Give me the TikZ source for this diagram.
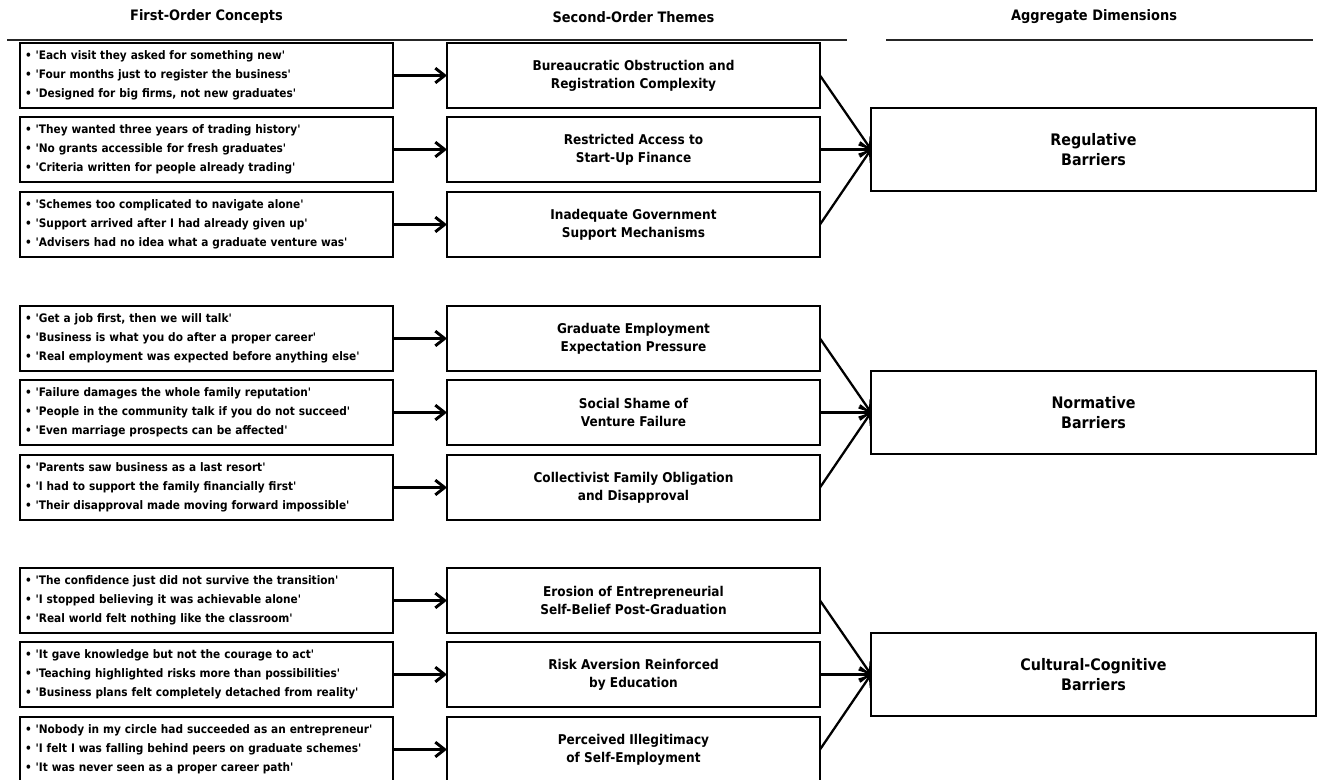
\documentclass[tikz,border=0pt]{standalone}
\usepackage{fontspec}
\setmainfont{DejaVu Sans Condensed}
\usetikzlibrary{arrows.meta}
\tikzset{>={Straight Barb[length=7pt,width=11pt]}}
\tikzset{
  concept/.style={draw, line width=1pt, outer sep=0pt, inner xsep=3.75pt, text width=272.25pt,
    minimum height=48.75pt, align=left, font=\fontsize{8.8}{14.1}\selectfont\bfseries},
  theme/.style={draw, line width=1pt, outer sep=0pt, minimum width=279.75pt, minimum height=48.75pt,
    align=center, font=\fontsize{10.1}{13.3}\selectfont\bfseries},
  dimbox/.style={draw, line width=1pt, outer sep=0pt, minimum width=333.75pt, minimum height=62.25pt,
    align=center, font=\fontsize{11.9}{15}\selectfont\bfseries},
  colhead/.style={font=\fontsize{10.8}{12}\selectfont\bfseries},
  rule/.style={line width=1.8pt, black!85},
  link/.style={->, line width=2.2pt},
  feed/.style={->, line width=1.7pt}
}
\newcommand{\qt}[1]{\textbullet\ \textquotesingle#1\textquotesingle}

\begin{document}
\begin{tikzpicture}[x=0.75pt, y=-0.75pt]
    \useasboundingbox (0,0) rectangle (1333,780);
    \clip (0,0) rectangle (1333,780);
    \node[colhead] (h1) at (206.5,17) {First-Order Concepts};
    \node[colhead] (h2) at (633.5,17) {Second-Order Themes};
    \node[colhead] (h3) at (1094,17) {Aggregate Dimensions};
    \draw[rule] (7,40) -- (847,40);
    \draw[rule] (886,40) -- (1313,40);
    % regulative
    \node[concept] (c1) at (206.5,75.5) {\qt{Each visit they asked for something new}\\ \qt{Four months just to register the business}\\ \qt{Designed for big firms, not new graduates}};
    \node[concept] (c2) at (206.5,149.5) {\qt{They wanted three years of trading history}\\ \qt{No grants accessible for fresh graduates}\\ \qt{Criteria written for people already trading}};
    \node[concept] (c3) at (206.5,224.5) {\qt{Schemes too complicated to navigate alone}\\ \qt{Support arrived after I had already given up}\\ \qt{Advisers had no idea what a graduate venture was}};
    \node[theme] (t1) at (633.5,75.5) {Bureaucratic Obstruction and\\ Registration Complexity};
    \node[theme] (t2) at (633.5,149.5) {Restricted Access to\\ Start-Up Finance};
    \node[theme] (t3) at (633.5,224.5) {Inadequate Government\\ Support Mechanisms};
    \node[dimbox] (d1) at (1093.5,149.5) {Regulative\\ Barriers};
    % normative
    \node[concept] (c4) at (206.5,338.5) {\qt{Get a job first, then we will talk}\\ \qt{Business is what you do after a proper career}\\ \qt{Real employment was expected before anything else}};
    \node[concept] (c5) at (206.5,412.5) {\qt{Failure damages the whole family reputation}\\ \qt{People in the community talk if you do not succeed}\\ \qt{Even marriage prospects can be affected}};
    \node[concept] (c6) at (206.5,487.5) {\qt{Parents saw business as a last resort}\\ \qt{I had to support the family financially first}\\ \qt{Their disapproval made moving forward impossible}};
    \node[theme] (t4) at (633.5,338.5) {Graduate Employment\\ Expectation Pressure};
    \node[theme] (t5) at (633.5,412.5) {Social Shame of\\ Venture Failure};
    \node[theme] (t6) at (633.5,487.5) {Collectivist Family Obligation\\ and Disapproval};
    \node[dimbox] (d2) at (1093.5,412.5) {Normative\\ Barriers};
    % cultural-cognitive
    \node[concept] (c7) at (206.5,600.5) {\qt{The confidence just did not survive the transition}\\ \qt{I stopped believing it was achievable alone}\\ \qt{Real world felt nothing like the classroom}};
    \node[concept] (c8) at (206.5,674.5) {\qt{It gave knowledge but not the courage to act}\\ \qt{Teaching highlighted risks more than possibilities}\\ \qt{Business plans felt completely detached from reality}};
    \node[concept] (c9) at (206.5,749.5) {\qt{Nobody in my circle had succeeded as an entrepreneur}\\ \qt{I felt I was falling behind peers on graduate schemes}\\ \qt{It was never seen as a proper career path}};
    \node[theme] (t7) at (633.5,600.5) {Erosion of Entrepreneurial\\ Self-Belief Post-Graduation};
    \node[theme] (t8) at (633.5,674.5) {Risk Aversion Reinforced\\ by Education};
    \node[theme] (t9) at (633.5,749.5) {Perceived Illegitimacy\\ of Self-Employment};
    \node[dimbox] (d3) at (1093.5,674.5) {Cultural-Cognitive\\ Barriers};
    % arrows
    \draw[link] (c1) -- (t1);
    \draw[link] (c2) -- (t2);
    \draw[link] (c3) -- (t3);
    \draw[link] (c4) -- (t4);
    \draw[link] (c5) -- (t5);
    \draw[link] (c6) -- (t6);
    \draw[link] (c7) -- (t7);
    \draw[link] (c8) -- (t8);
    \draw[link] (c9) -- (t9);
    \draw[feed] (t1.east) -- (d1.west);
    \draw[feed] (t2.east) -- (d1.west);
    \draw[feed] (t3.east) -- (d1.west);
    \draw[feed] (t4.east) -- (d2.west);
    \draw[feed] (t5.east) -- (d2.west);
    \draw[feed] (t6.east) -- (d2.west);
    \draw[feed] (t7.east) -- (d3.west);
    \draw[feed] (t8.east) -- (d3.west);
    \draw[feed] (t9.east) -- (d3.west);
\end{tikzpicture}
\end{document}
